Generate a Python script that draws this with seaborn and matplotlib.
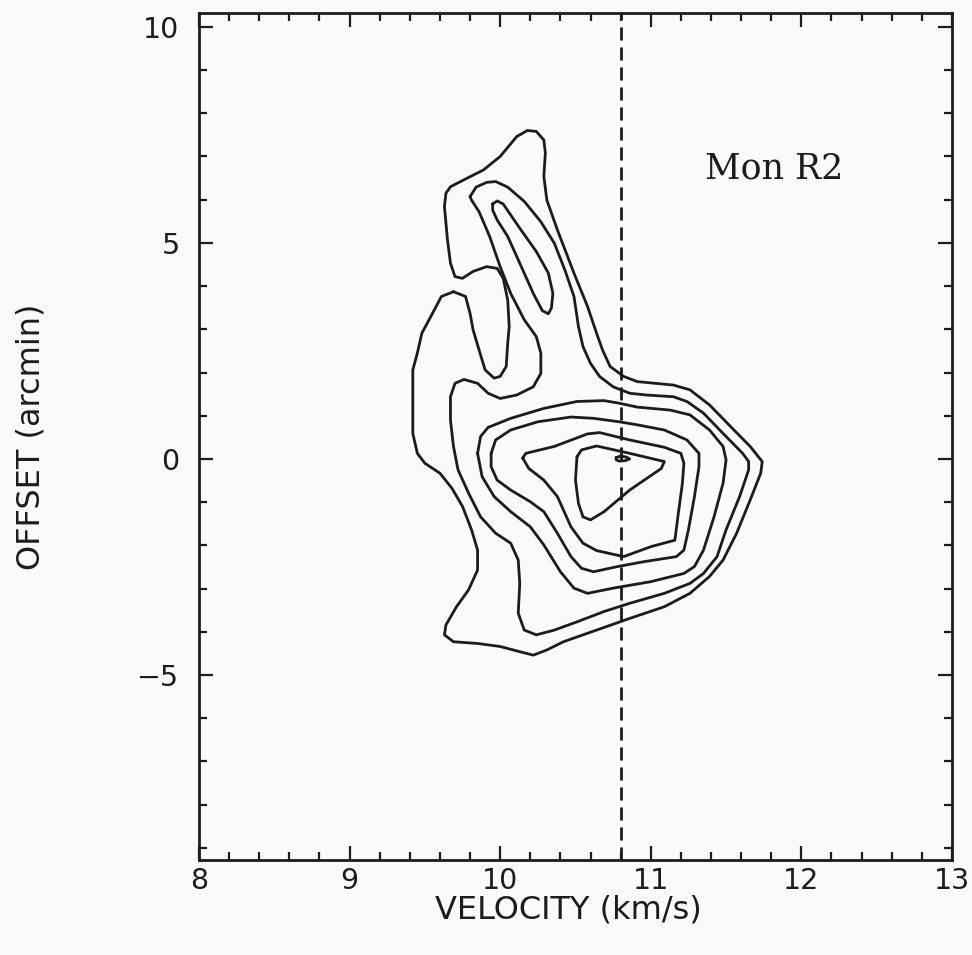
import matplotlib
matplotlib.use("Agg")
import matplotlib.pyplot as plt
from matplotlib.ticker import MultipleLocator
import pandas as pd
import seaborn as sns

# Position-velocity contours of Mon R2 (velocity in km/s, offset in arcmin).
# Level 1: outermost contour, enclosing the western finger and the northern lobe.
lvl1_vel = [9.69, 9.77, 9.80, 9.82, 9.86, 9.90, 9.96, 10.00, 10.04, 10.05,
            10.06, 10.05, 10.02, 9.98, 9.91, 9.82, 9.75, 9.70, 9.67, 9.65,
            9.63, 9.64, 9.67, 9.76, 9.89, 10.00, 10.11, 10.18, 10.24, 10.29,
            10.30, 10.29, 10.31, 10.38, 10.49, 10.58, 10.64, 10.68, 10.73, 10.82,
            10.91, 11.15, 11.26, 11.39, 11.53, 11.66, 11.74, 11.73, 11.66, 11.57,
            11.48, 11.39, 11.26, 11.09, 10.86, 10.64, 10.42, 10.31, 10.22, 10.13,
            10.00, 9.85, 9.69, 9.63, 9.64, 9.71, 9.79, 9.85, 9.85, 9.81,
            9.75, 9.68, 9.60, 9.50, 9.45, 9.42, 9.42, 9.42, 9.45, 9.48,
            9.54, 9.61]
lvl1_off = [3.87, 3.76, 3.37, 2.99, 2.52, 2.06, 1.87, 1.91, 2.14, 2.68,
            3.06, 3.68, 4.18, 4.41, 4.45, 4.34, 4.18, 4.22, 4.53, 5.07,
            5.84, 6.15, 6.30, 6.46, 6.69, 7.00, 7.46, 7.60, 7.58, 7.38,
            7.08, 6.54, 5.99, 5.30, 4.30, 3.53, 2.91, 2.52, 2.14, 1.91,
            1.79, 1.71, 1.60, 1.25, 0.75, 0.29, -0.06, -0.33, -0.95, -1.72,
            -2.34, -2.72, -3.11, -3.42, -3.69, -3.96, -4.23, -4.42, -4.54, -4.46,
            -4.34, -4.27, -4.23, -4.07, -3.84, -3.42, -3.03, -2.57, -2.11, -1.64,
            -1.10, -0.68, -0.33, -0.10, 0.13, 0.59, 1.29, 2.06, 2.45, 2.91,
            3.30, 3.76]

# Level 2
lvl2_vel = [9.80, 9.84, 9.91, 9.97, 10.05, 10.16, 10.27, 10.36, 10.43, 10.49,
            10.52, 10.55, 10.60, 10.66, 10.75, 10.86, 10.97, 11.15, 11.24, 11.35,
            11.48, 11.61, 11.65, 11.65, 11.59, 11.50, 11.44, 11.35, 11.26, 11.09,
            10.86, 10.69, 10.51, 10.36, 10.24, 10.16, 10.12, 10.13, 10.12, 10.07,
            9.97, 9.87, 9.79, 9.72, 9.69, 9.67, 9.67, 9.70, 9.76, 9.85,
            9.92, 10.00, 10.11, 10.22, 10.27, 10.27, 10.24, 10.16, 10.07, 10.00,
            9.93, 9.86, 9.81]
lvl2_off = [6.07, 6.29, 6.40, 6.42, 6.29, 5.96, 5.49, 4.99, 4.37, 3.76,
            3.06, 2.60, 2.21, 1.91, 1.67, 1.52, 1.48, 1.44, 1.33, 1.06,
            0.59, 0.13, -0.06, -0.25, -0.87, -1.64, -2.26, -2.65, -2.88, -3.11,
            -3.34, -3.53, -3.77, -3.96, -4.07, -3.96, -3.57, -2.88, -2.34, -1.95,
            -1.72, -1.34, -0.79, -0.25, 0.29, 0.90, 1.44, 1.75, 1.84, 1.75,
            1.52, 1.40, 1.48, 1.67, 1.98, 2.45, 2.83, 3.22, 3.83, 4.45,
            5.15, 5.72, 5.99]

# Level 3: northern island and main body
lvl3n_vel = [9.95, 9.98, 10.02, 10.13, 10.24, 10.32, 10.35, 10.34, 10.32, 10.28,
             10.22, 10.13, 10.05, 9.98, 9.95]
lvl3n_off = [5.90, 5.97, 5.90, 5.34, 4.80, 4.30, 3.83, 3.49, 3.36, 3.43,
             3.83, 4.53, 5.15, 5.53, 5.76]
lvl3_vel = [9.85, 9.87, 9.92, 10.07, 10.29, 10.51, 10.69, 10.79, 10.91, 11.13,
            11.26, 11.39, 11.48, 11.50, 11.48, 11.42, 11.35, 11.29, 11.22, 11.00,
            10.75, 10.58, 10.49, 10.40, 10.29, 10.20, 10.07, 9.96, 9.88]
lvl3_off = [0.13, 0.52, 0.73, 0.94, 1.17, 1.33, 1.35, 1.29, 1.20, 1.13,
            1.02, 0.67, 0.29, -0.02, -0.56, -1.34, -2.11, -2.49, -2.65, -2.84,
            -2.99, -3.11, -2.99, -2.61, -1.99, -1.57, -1.22, -0.87, -0.41]

# Level 4
lvl4_vel = [9.94, 9.97, 10.07, 10.25, 10.47, 10.62, 10.79, 10.91, 11.09, 11.24,
            11.32, 11.32, 11.29, 11.25, 11.22, 11.17, 10.95, 10.78, 10.62, 10.54,
            10.47, 10.38, 10.29, 10.20, 10.07, 9.98, 9.94]
lvl4_off = [0.13, 0.44, 0.67, 0.86, 0.97, 0.94, 0.86, 0.79, 0.67, 0.44,
            0.13, -0.18, -0.87, -1.64, -2.11, -2.26, -2.38, -2.49, -2.61, -2.53,
            -2.26, -1.72, -1.22, -0.99, -0.72, -0.49, -0.18]

# Level 5
lvl5_vel = [10.15, 10.17, 10.36, 10.58, 10.66, 10.86, 11.09, 11.20, 11.22, 11.21,
            11.18, 11.16, 11.00, 10.82, 10.64, 10.55, 10.47, 10.38, 10.29, 10.19]
lvl5_off = [0.02, 0.13, 0.29, 0.58, 0.61, 0.44, 0.27, 0.13, -0.10, -0.56,
            -1.34, -1.88, -2.03, -2.26, -2.12, -1.95, -1.57, -0.87, -0.49, -0.22]

# Level 6
lvl6_vel = [10.51, 10.54, 10.64, 10.86, 11.09, 11.07, 10.86, 10.69, 10.60, 10.55,
            10.52, 10.50]
lvl6_off = [0.05, 0.21, 0.30, 0.13, -0.06, -0.22, -0.72, -1.22, -1.41, -1.34,
            -1.03, -0.49]

# Level 7: peak
lvl7_vel = [10.77, 10.80, 10.84, 10.86, 10.83, 10.79, 10.77]
lvl7_off = [0.03, 0.07, 0.04, 0.00, -0.04, -0.05, -0.02]

systemic_velocity = 10.8
source_name = "Mon R2"
x_ticks = [8, 9, 10, 11, 12, 13]
y_ticks = [-5, 0, 5, 10]
x_label = "VELOCITY (km/s)"
y_label = "OFFSET (arcmin)"

pieces = [
    ("1", lvl1_vel, lvl1_off), ("2", lvl2_vel, lvl2_off),
    ("3n", lvl3n_vel, lvl3n_off), ("3", lvl3_vel, lvl3_off),
    ("4", lvl4_vel, lvl4_off), ("5", lvl5_vel, lvl5_off),
    ("6", lvl6_vel, lvl6_off), ("7", lvl7_vel, lvl7_off),
]
rows = []
for name, vel, off in pieces:
    # close each contour loop
    for i, (v, o) in enumerate(zip(list(vel) + [vel[0]], list(off) + [off[0]])):
        rows.append({"piece": name, "step": i, "velocity": v, "offset": o})
contours = pd.DataFrame(rows)

sns.set_theme(style="ticks")
plt.rcParams["font.family"] = ["DejaVu Sans"]

ink = "#1c1c1c"
paper = "#fafafa"

fig = plt.figure(figsize=(9.72, 9.55), dpi=100, facecolor=paper)
ax = fig.add_axes([0.2047, 0.0995, 0.7747, 0.8869], facecolor=paper)

sns.lineplot(data=contours, x="velocity", y="offset", units="piece",
             estimator=None, sort=False, color=ink, linewidth=2.0,
             solid_joinstyle="round", solid_capstyle="round",
             legend=False, ax=ax)

ax.axvline(systemic_velocity, color=ink, linewidth=2.0,
           linestyle=(0, (4.7, 2.5)))

ax.set_xlim(8, 13)
ax.set_ylim(-9.28, 10.32)
ax.set_xticks(x_ticks)
ax.set_yticks(y_ticks)
ax.xaxis.set_minor_locator(MultipleLocator(0.2))
ax.yaxis.set_minor_locator(MultipleLocator(1))
ax.tick_params(which="both", direction="in", top=True, right=True,
               color=ink, width=1.6, labelcolor=ink, labelsize=20.5)
ax.tick_params(which="major", length=10)
ax.tick_params(which="minor", length=5.5)
ax.tick_params(axis="x", pad=5)
ax.tick_params(axis="y", pad=14)
for s in ax.spines.values():
    s.set_visible(True)
    s.set_color(ink)
    s.set_linewidth(2.0)

ax.set_xlabel(x_label, fontsize=23, color=ink)
ax.set_ylabel(y_label, fontsize=23, color=ink)
ax.xaxis.set_label_coords(0.49, -0.041)
ax.yaxis.set_label_coords(-0.203, 0.5)

ax.text(0.672, 0.805, source_name, transform=ax.transAxes,
        family="DejaVu Serif", fontsize=25, color=ink,
        ha="left", va="baseline")

fig.savefig("out.png", dpi=100, facecolor=paper)
